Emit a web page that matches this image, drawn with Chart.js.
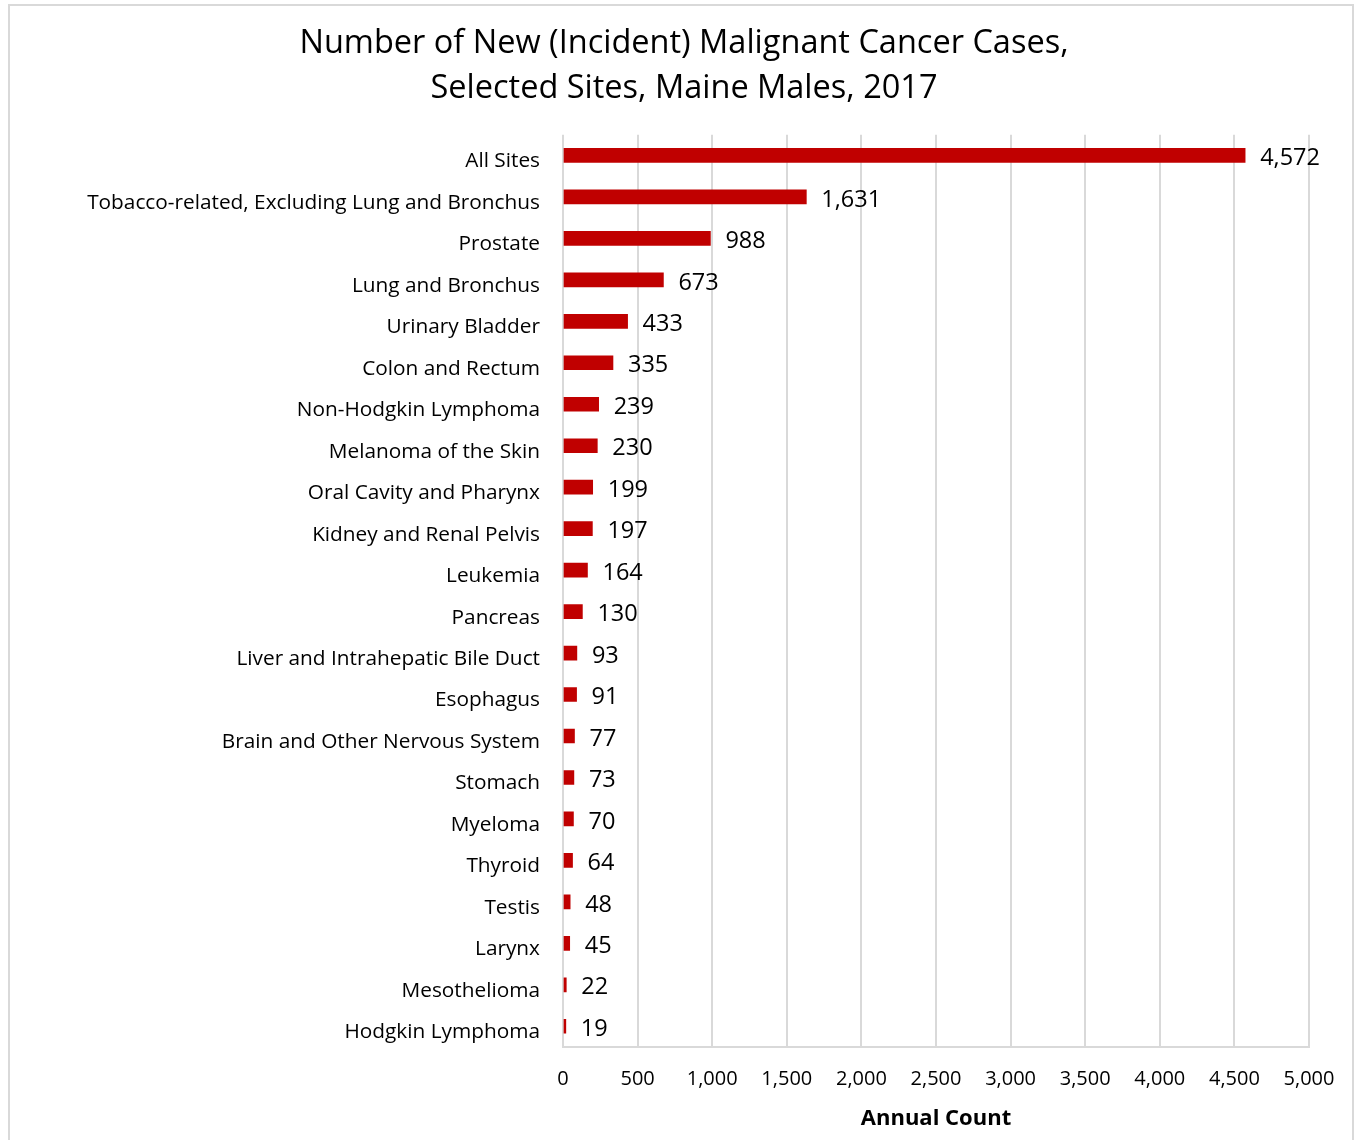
<!DOCTYPE html>
<html>
<head>
<meta charset="utf-8">
<script src="https://cdn.jsdelivr.net/npm/chart.js@4"></script>
<style>
  html, body { margin: 0; padding: 0; background: #fff; }
  #wrap { position: relative; width: 1355px; height: 1140px; }
  #frame { position: absolute; left: 8px; top: 4px; width: 1346px; height: 1140px; border: 2px solid #d9d9d9; box-sizing: border-box; }
  canvas { position: absolute; left: 0; top: 0; }
</style>
</head>
<body>
<div id="wrap">
  <div id="frame"></div>
  <canvas id="mainChart" width="1355" height="1140"></canvas>
</div>
<script>
// 데이터
var sites = [
  'All Sites', 'Tobacco-related, Excluding Lung and Bronchus', 'Prostate', 'Lung and Bronchus',
  'Urinary Bladder', 'Colon and Rectum', 'Non-Hodgkin Lymphoma', 'Melanoma of the Skin',
  'Oral Cavity and Pharynx', 'Kidney and Renal Pelvis', 'Leukemia', 'Pancreas',
  'Liver and Intrahepatic Bile Duct', 'Esophagus', 'Brain and Other Nervous System', 'Stomach',
  'Myeloma', 'Thyroid', 'Testis', 'Larynx', 'Mesothelioma', 'Hodgkin Lymphoma'
];
var counts = [4572, 1631, 988, 673, 433, 335, 239, 230, 199, 197, 164, 130, 93, 91, 77, 73, 70, 64, 48, 45, 22, 19];
var xTicks = [0, 500, 1000, 1500, 2000, 2500, 3000, 3500, 4000, 4500, 5000];

var fontName = '"Open Sans", "DejaVu Sans", sans-serif';

// 막대 끝에 값 표시
var valueLabels = {
  id: 'valueLabels',
  afterDatasetsDraw: function(chart) {
    var ctx = chart.ctx;
    var meta = chart.getDatasetMeta(0);
    ctx.save();
    ctx.font = '23.5px ' + fontName;
    ctx.fillStyle = '#000';
    ctx.textAlign = 'left';
    ctx.textBaseline = 'middle';
    meta.data.forEach(function(bar, i) {
      ctx.fillText(counts[i].toLocaleString('en-US'), bar.x + 15, bar.y + 3);
    });
    ctx.restore();
  }
};

var ctx = document.getElementById('mainChart');
var myChart = new Chart(ctx, {
  type: 'bar',
  data: {
    labels: sites,
    datasets: [{
      label: 'Annual Count',
      data: counts,
      backgroundColor: '#c00000',
      barThickness: 14
    }]
  },
  plugins: [valueLabels],
  options: {
    indexAxis: 'y',
    responsive: false,
    animation: false,
    layout: { padding: { left: 59, right: 46, top: 0, bottom: 0 } },
    plugins: {
      legend: { display: false },
      tooltip: { enabled: false },
      title: {
        display: true,
        text: ['Number of New (Incident) Malignant Cancer Cases,', 'Selected Sites, Maine Males, 2017'],
        color: '#000',
        font: { family: fontName, size: 32.5, weight: 'normal', lineHeight: 1.38 },
        padding: { top: 21, bottom: 24 }
      }
    },
    scales: {
      x: {
        min: 0,
        max: 5000,
        afterBuildTicks: function(scale) {
          scale.ticks = xTicks.map(function(v) { return { value: v }; });
        },
        afterFit: function(scale) { scale.height = 93; },
        grid: { color: '#d9d9d9', lineWidth: 2, drawTicks: false },
        border: { color: '#d9d9d9', width: 2 },
        ticks: {
          color: '#000',
          padding: 20,
          maxRotation: 0,
          font: { family: fontName, size: 20 },
          callback: function(v) { return v.toLocaleString('en-US'); }
        },
        title: {
          display: true,
          text: 'Annual Count',
          color: '#000',
          font: { family: fontName, size: 22, weight: 'bold' },
          padding: { top: 0, bottom: 8 }
        }
      },
      y: {
        afterFit: function(scale) { scale.width = 563 - 59; },
        grid: { display: false, drawTicks: false },
        border: { display: false },
        ticks: {
          color: '#000',
          padding: 23,
          labelOffset: 6,
          autoSkip: false,
          font: { family: fontName, size: 20.8 }
        }
      }
    }
  }
});
</script>
</body>
</html>
